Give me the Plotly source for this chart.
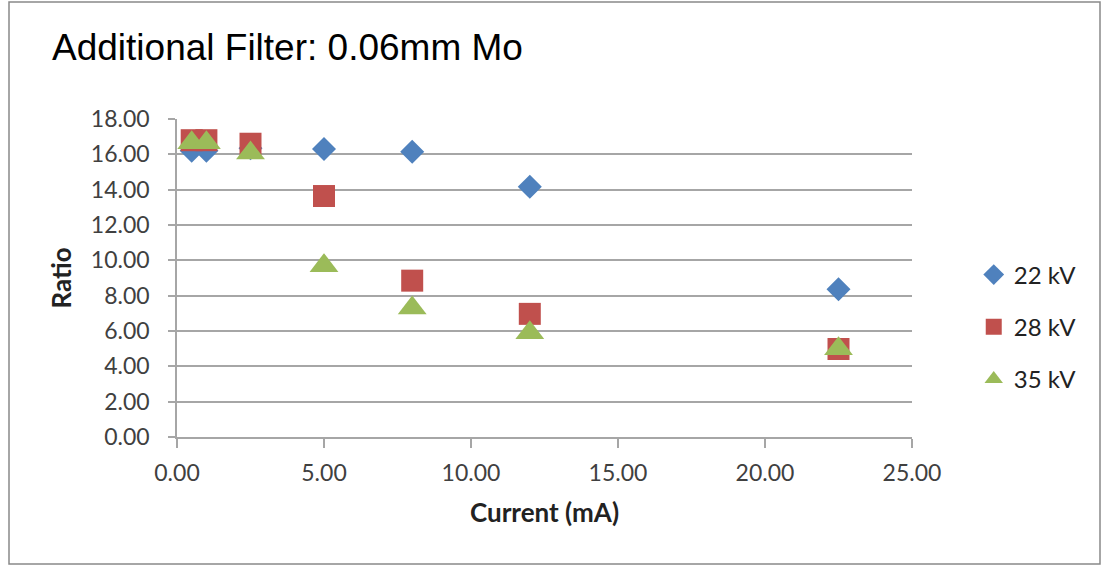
import plotly.graph_objects as go

current = [0.5, 1.0, 2.5, 5.0, 8.0, 12.0, 22.5]
ratio_22kv = [16.2, 16.2, 16.35, 16.3, 16.15, 14.17, 8.36]
ratio_28kv = [16.8, 16.8, 16.6, 13.64, 8.85, 6.97, 4.98]
ratio_35kv = [16.65, 16.65, 16.07, 9.7, 7.3, 5.9, 5.0]

series = [
    ("22 kV", ratio_22kv, "diamond", 18.5, "#4F81BD"),
    ("28 kV", ratio_28kv, "square", 22, "#C0504D"),
    ("35 kV", ratio_35kv, "triangle-up", 25, "#9BBB59"),
]

FONT = "Lato, Carlito, sans-serif"
tick_font = dict(family=FONT, size=23, color="#404040")

fig = go.Figure()
for i, (name, vals, sym, size, col) in enumerate(series):
    fig.add_trace(go.Scatter(
        x=current, y=vals, mode="markers", name=name, legendgroup=name,
        marker=dict(symbol=sym, size=size, color=col, line=dict(width=0)),
    ))

fig.update_layout(
    width=1106, height=565,
    margin=dict(l=177, r=194, t=119, b=128),
    paper_bgcolor="white", plot_bgcolor="white",
    showlegend=True,
    legend=dict(x=1.084, y=(437 - 327) / 318, xanchor="left", yanchor="middle",
                font=dict(family=FONT, size=24, color="#222222"),
                tracegroupgap=18, itemsizing="trace"),
    annotations=[dict(text="Additional Filter: 0.06mm Mo", xref="paper", yref="paper",
                      x=(50 - 177) / 735, y=(437 - 48) / 318, xanchor="left", yanchor="middle",
                      showarrow=False,
                      font=dict(family="Liberation Sans, Arial, sans-serif", size=37, color="black"))],
    shapes=[dict(type="rect", xref="paper", yref="paper",
                 x0=(9 - 177) / 735, x1=(1100 - 177) / 735,
                 y0=(437 - 564) / 318, y1=(437 - 2) / 318,
                 line=dict(color="#898989", width=1.5))],
)

fig.update_xaxes(
    range=[0, 25], dtick=5, tickformat=".2f", showgrid=False, zeroline=False,
    showline=True, linecolor="#A6A6A6", linewidth=1.5,
    ticks="outside", ticklen=9, tickcolor="#A6A6A6", tickwidth=1.5,
    tickfont=tick_font, ticklabelstandoff=6,
    title=dict(text="<b>Current (mA)</b>", font=dict(family=FONT, size=26, color="#222222"), standoff=18),
)
fig.update_yaxes(
    range=[0, 18], dtick=2, tickformat=".2f", showgrid=True, gridcolor="#A6A6A6", gridwidth=1.5,
    zeroline=False, showline=True, linecolor="#A6A6A6", linewidth=1.5,
    ticks="outside", ticklen=7, tickcolor="#A6A6A6", tickwidth=1.5,
    tickfont=tick_font, ticklabelstandoff=14,
    title=dict(text="<b>Ratio</b>", font=dict(family=FONT, size=26, color="#222222"), standoff=12),
)

fig.write_html("out.html")
